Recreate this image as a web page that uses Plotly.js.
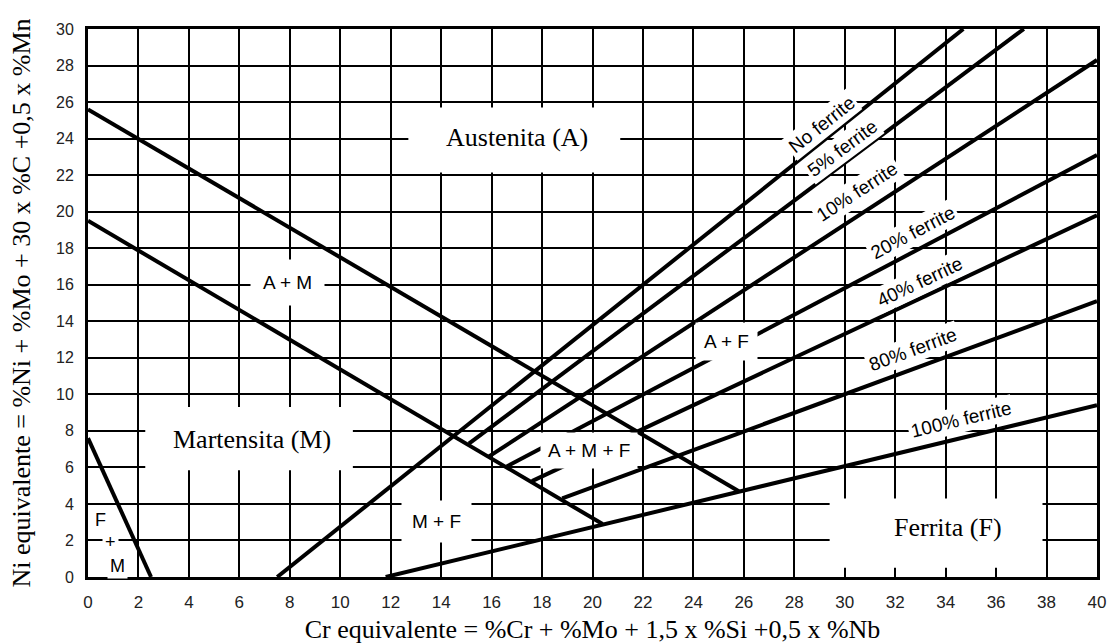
<!DOCTYPE html>
<html><head><meta charset="utf-8">
<script src="https://cdn.plot.ly/plotly-3.0.1.min.js"></script>
<style>html,body{margin:0;padding:0;background:#fff}</style>
</head><body>
<div id="chart" style="width:1107px;height:644px"></div>
<script>
// ---- axis ticks ----
const xTickVals = [0,2,4,6,8,10,12,14,16,18,20,22,24,26,28,30,32,34,36,38,40];
const yTickVals = [0,2,4,6,8,10,12,14,16,18,20,22,24,26,28,30];

// ---- phase boundaries (Cr eq, Ni eq) ----
const austeniteLimitX = [0, 25.8];
const austeniteLimitY = [25.6, 4.7];
const martensiteLimitX = [0, 20.4];
const martensiteLimitY = [19.5, 2.9];
const ferriteMartensiteX = [0, 2.5];
const ferriteMartensiteY = [7.6, 0];

// ---- ferrite iso-lines ----
const ferriteNames  = ["No ferrite", "5% ferrite", "10% ferrite", "20% ferrite", "40% ferrite", "80% ferrite", "100% ferrite"];
const ferriteStartX = [7.5, 15.1, 15.9, 16.6, 17.6, 18.8, 11.8];
const ferriteStartY = [0,   7.3,  6.6,  6.05, 5.25, 4.3,  0];
const ferriteEndX   = [34.7, 37.1, 40,  40,   40,   40,   40];
const ferriteEndY   = [30,   30,   28.3, 23.1, 19.8, 15.1, 9.4];

// ---- text ----
const regionNames = ["Austenita (A)", "Martensita (M)", "Ferrita (F)"];
const mixNames = ["A + M", "A + F", "A + M + F", "M + F"];
const xTitle = "Cr equivalente = %Cr + %Mo + 1,5 x %Si +0,5 x %Nb";
const yTitle = "Ni equivalente = %Ni + %Mo + 30 x %C +0,5 x %Mn";

const W = 1107, H = 644;
const M = {l: 88, r: 10, t: 29, b: 67};
const pxX = (W - M.l - M.r) / 40, pxY = (H - M.t - M.b) / 30;

const lineStyle = {color: '#000', width: 4};
const traces = [];
function seg(x, y, name) {
  traces.push({type: 'scatter', mode: 'lines', x: x, y: y, name: name,
    line: lineStyle, hoverinfo: 'skip', showlegend: false, cliponaxis: true});
}
seg(austeniteLimitX, austeniteLimitY, 'A / A+M');
seg(martensiteLimitX, martensiteLimitY, 'M / A+M');
seg(ferriteMartensiteX, ferriteMartensiteY, 'F+M');
for (let i = 0; i < ferriteNames.length; i++) {
  seg([ferriteStartX[i], ferriteEndX[i]], [ferriteStartY[i], ferriteEndY[i]], ferriteNames[i]);
}

const serif = 'Liberation Serif, Times New Roman, serif';
const sans = 'Liberation Sans, Arial, sans-serif';

const annotations = [];
// region labels
const regionPos = [[17.0, 24.05], [6.5, 7.55], [34.1, 2.7]];
regionNames.forEach((t, i) => annotations.push({
  x: regionPos[i][0], y: regionPos[i][1], xref: 'x', yref: 'y', text: t,
  showarrow: false, font: {family: serif, size: 26, color: '#000'}
}));
// mixture labels
const mixPos = [[7.9, 16.1, 12], [25.3, 12.9, 8], [19.85, 6.95, 7], [13.8, 3.05, 10]];
mixNames.forEach((t, i) => annotations.push({
  x: mixPos[i][0], y: mixPos[i][1], xref: 'x', yref: 'y', text: t,
  showarrow: false, bgcolor: '#fff', borderpad: mixPos[i][2],
  font: {family: sans, size: 19, color: '#000'}
}));
// F + M small labels
[["F", 0.5, 3.1], ["+", 0.88, 1.9], ["M", 1.18, 0.6]].forEach(a => annotations.push({
  x: a[1], y: a[2], xref: 'x', yref: 'y', text: a[0], showarrow: false,
  bgcolor: '#fff', borderpad: 2, font: {family: sans, size: 18, color: '#000'}
}));
// ferrite labels along lines
const ferriteLabelPos = [[29.1, 24.75], [29.9, 23.45], [30.5, 21.1], [32.7, 18.85], [33.0, 16.15], [32.7, 12.45], [34.6, 8.6]];
ferriteNames.forEach((t, i) => {
  const dx = (ferriteEndX[i] - ferriteStartX[i]) * pxX;
  const dy = (ferriteEndY[i] - ferriteStartY[i]) * pxY;
  annotations.push({
    x: ferriteLabelPos[i][0], y: ferriteLabelPos[i][1], xref: 'x', yref: 'y', text: t,
    showarrow: false, textangle: -Math.atan2(dy, dx) * 180 / Math.PI,
    bgcolor: '#fff', borderpad: 2, font: {family: sans, size: 19, color: '#000'}
  });
});

const shapes = [
  {type: 'rect', xref: 'x', yref: 'y', x0: 12.7, x1: 21.1, y0: 22.15, y1: 25.7, fillcolor: '#fff', line: {width: 0}, layer: 'between'},
  {type: 'rect', xref: 'x', yref: 'y', x0: 2.27, x1: 10.5, y0: 5.85, y1: 9.3, fillcolor: '#fff', line: {width: 0}, layer: 'between'},
  {type: 'rect', xref: 'x', yref: 'y', x0: 29.4, x1: 37.84, y0: 0.5, y1: 4.3, fillcolor: '#fff', line: {width: 0}, layer: 'between'}
];

const axisCommon = {
  showgrid: true, gridcolor: '#000', gridwidth: 2,
  zeroline: false, showline: true, linecolor: '#000', linewidth: 3, mirror: true,
  ticks: '', ticklabelstandoff: 8, tickfont: {family: sans, size: 17, color: '#222'}
};

const layout = {
  width: W, height: H, margin: M,
  paper_bgcolor: '#fff', plot_bgcolor: '#fff', showlegend: false,
  xaxis: Object.assign({}, axisCommon, {
    range: [0, 40], tickvals: xTickVals, ticktext: xTickVals.map(String),
    title: {text: xTitle, font: {family: serif, size: 26, color: '#000'}, standoff: 14}
  }),
  yaxis: Object.assign({}, axisCommon, {
    range: [0, 30], tickvals: yTickVals, ticktext: yTickVals.map(String),
    tickfont: {family: sans, size: 16, color: '#222'},
    title: {text: yTitle, font: {family: serif, size: 26, color: '#000'}, standoff: 18}
  }),
  annotations: annotations, shapes: shapes
};

Plotly.newPlot('chart', traces, layout, {displayModeBar: false, staticPlot: true});
</script>
</body></html>
